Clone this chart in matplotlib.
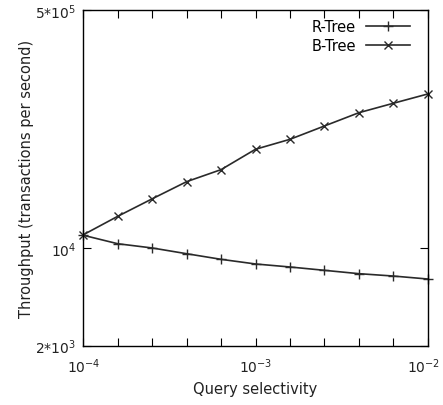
"""Throughput vs query selectivity, R-Tree vs B-Tree (gnuplot style)."""

import matplotlib
matplotlib.use("Agg")
import matplotlib.pyplot as plt
import matplotlib.transforms as mtransforms

selectivity = [1.0e-4, 1.585e-4, 2.512e-4, 3.981e-4, 6.310e-4,
               1.0e-3, 1.585e-3, 2.512e-3, 3.981e-3, 6.310e-3, 1.0e-2]
rtree = [12300, 10700, 9980, 9080, 8280, 7670, 7300, 6910, 6540, 6290, 5990]
btree = [12400, 16800, 22400, 29700, 36200, 50600, 59600, 74200, 92300, 107800, 125600]

xtick_vals = [1e-4, 1e-3, 1e-2]
xtick_labels = [r"$10^{-4}$", r"$10^{-3}$", r"$10^{-2}$"]
ytick_vals = [2e3, 1e4, 5e5]
ytick_labels = [r"$2{*}10^{3}$", r"$10^{4}$", r"$5{*}10^{5}$"]

plt.rcParams["font.family"] = ["DejaVu Sans"]
plt.rcParams["font.size"] = 10.5
plt.rcParams["mathtext.default"] = "regular"

fig = plt.figure(figsize=(4.43, 4.06), dpi=100)
ax = fig.add_axes([83.3 / 443, 1 - 346.7 / 406, 344.4 / 443, 335.7 / 406])

ink = "#2a2a2a"
ax.plot(selectivity, rtree, color=ink, lw=1.2, marker="+", ms=7, mew=1.0,
        label="R-Tree", clip_on=False)
ax.plot(selectivity, btree, color=ink, lw=1.2, marker="x", ms=5.5, mew=1.0,
        label="B-Tree", clip_on=False)

ax.set_xscale("log")
ax.set_yscale("log")
ax.set_xlim(1e-4, 1e-2)
ax.set_ylim(2e3, 5e5)

ax.set_xticks(selectivity, minor=True)
ax.set_xticks(xtick_vals)
ax.set_xticklabels(xtick_labels)
ax.set_yticks(ytick_vals)
ax.set_yticklabels(ytick_labels)
ax.yaxis.set_minor_locator(matplotlib.ticker.NullLocator())

ax.tick_params(which="both", direction="in", top=True, right=True,
               length=6, width=0.8, colors="black", labelcolor="#222222",
               labelsize=10)
ax.tick_params(which="major", axis="x", pad=8)
ax.tick_params(which="major", axis="y", pad=5)
for s in ax.spines.values():
    s.set_linewidth(1.0)

# nudge the last x label a few pixels left so it stays inside the canvas
last = ax.get_xticklabels()[-1]
last.set_transform(last.get_transform() +
                   mtransforms.ScaledTranslation(-4 / 100, 0, fig.dpi_scale_trans))

ax.set_xlabel("Query selectivity", color="#222222", labelpad=4)
ax.set_ylabel("Throughput (transactions per second)", color="#222222", labelpad=1)

leg = ax.legend(loc="upper right", bbox_to_anchor=(0.966, 0.99), frameon=False,
                markerfirst=False, handlelength=3.0, borderaxespad=0.0,
                labelspacing=0.25, handletextpad=0.7)

fig.savefig("out.png", dpi=100)
